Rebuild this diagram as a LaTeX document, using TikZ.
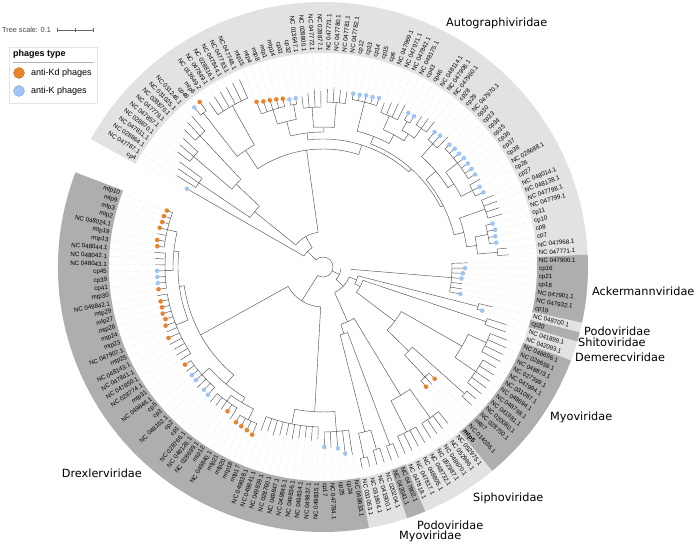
\documentclass[tikz,border=0pt]{standalone}
\usepackage{fontspec}
\setmainfont{Liberation Sans}
\newfontfamily\famfont{DejaVu Sans}
\definecolor{kd}{HTML}{E8832A}
\definecolor{kk}{HTML}{9EC5F6}
\definecolor{lightband}{HTML}{E2E2E2}
\definecolor{darkband}{HTML}{AEAEAE}
\tikzset{
  branch/.style={draw=black!68, line width=0.45pt},
  leader/.style={draw=black!22, dotted, line width=0.4pt},
  leaflab/.style={inner sep=0pt, font=\fontsize{6.2}{7}\selectfont},
  famlab/.style={inner sep=0pt, font=\famfont\fontsize{11.3}{13}\selectfont},
  leglab/.style={inner sep=0pt, anchor=west, font=\fontsize{9}{10}\selectfont}
}
\newcommand{\band}[3]{%
  \pgfmathsetmacro{\ba}{150.1-2.121*(#1-1.5)}
  \pgfmathsetmacro{\bb}{150.1-2.121*(#2-0.5)}
  \fill[#3] (\ba:214) arc[start angle=\ba, end angle=\bb, radius=214pt]
    -- (\bb:265) arc[start angle=\bb, end angle=\ba, radius=265pt] -- cycle;
}
\begin{document}
\begin{tikzpicture}[x=1pt, y=1pt]
    \useasboundingbox (-323,-276) rectangle (373,267);
    % family ranges behind the labels
    \band{1}{70}{lightband}
    \band{71}{77}{darkband}
    \band{78}{78}{lightband}
    \band{79}{79}{darkband}
    \band{80}{81}{lightband}
    \band{82}{95}{darkband}
    \band{96}{103}{lightband}
    \band{104}{105}{darkband}
    \band{106}{109}{lightband}
    \band{110}{166}{darkband}
    % inner nodes: radius / first child / last child / parent radius
    \foreach \r/\p/\q/\rp in {
        150/2/4/88, 170/5/7/120, 180/8/10/120, 120/6/9/88, 88/3/7.5/35,
        195/11/12/140, 185/13/18/140, 140/11.5/15.5/118,
        165/19/23/150, 165/24/25/150, 150/21/24.5/135,
        160/26/29/140, 165/30/33/140, 140/27.5/31.5/135, 135/22.75/29.5/128,
        170/34/38/140, 165/39/42/150, 168/43/44/158, 170/45/47/158,
        158/43.5/46/150, 150/40.5/44.75/140, 140/36/42.625/132,
        165/48/50/148, 170/51/57/155, 168/58/60/155, 155/54/59/148,
        148/49/56.5/135, 172/61/64/145, 168/65/68/155, 175/69/70/155,
        155/66.5/69.5/145, 145/62.5/68/135, 135/52.75/65.25/132,
        132/39.3125/59/128, 128/26.125/49.15625/118, 118/13.5/37.640625/35,
        35/5.25/25.5703125/22, 22/1/15.41015625/10,
        129/71/77/28, 160/78/79/36, 172/80/81/42, 180/82/85/160,
        185/86/90/160, 160/83.5/88/90, 190/91/92/120, 150/93/95/120,
        120/91.5/94/90, 90/85.75/92.75/42, 42/80.5/89.25/36,
        36/78.5/84.875/28, 185/96/99/150, 185/100/103/150, 150/97.5/101.5/60,
        190/104/105/70, 190/106/107/170, 195/108/109/170, 170/106.5/108.5/70,
        70/104.5/107.5/60, 60/99.5/106/28, 28/81.6875/102.75/18,
        18/74/92.21875/10,
        165/110/114/145, 160/115/124/145, 145/112/119.5/40, 170/125/128/158,
        165/129/133/158, 158/126.5/131/152, 162/134/140/152, 152/128.75/137/140,
        158/141/152/145, 158/153/159/150, 160/160/166/150, 150/156/163/145,
        145/146.5/159.5/140, 140/132.875/153/40, 40/115.75/142.9375/10,
        10/8.205078125/129.34375/10} {
        \pgfmathsetmacro{\ca}{150.1-2.121*(\p-1)}
        \pgfmathsetmacro{\cb}{150.1-2.121*(\q-1)}
        \pgfmathsetmacro{\cm}{(\ca+\cb)/2}
        \draw[branch] (\ca:\r) arc[start angle=\ca, end angle=\cb, radius=\r pt];
        \draw[branch] (\cm:\rp) -- (\cm:\r);
    }
    % leaves: index / parent radius / tip radius / dot / label
    \foreach \i/\rp/\rt/\typ/\lab in {
        1/22/157/kk/cp4, 2/150/172/none/NC 047787.1, 3/150/175/none/NC 028864.1,
        4/150/178/none/NC 047811.1, 5/170/185/none/NC 028870.1, 6/170/188/none/NC 047857.1,
        7/170/190/none/NC 047779.1, 8/180/195/none/NC 028870.1, 9/180/198/none/NC 031025.1,
        10/180/200/none/NC 031246.1, 11/195/205/kk/cp48, 12/195/206/kd/mtp6,
        13/185/200/none/NC 013649.2, 14/185/202/none/NC 047849.1, 15/185/203/none/NC 028816.1,
        16/185/204/none/NC 047844.1, 17/185/205/none/NC 047783.1, 18/185/205/none/NC 047748.1,
        19/165/178/kd/mtp15, 20/165/176/kd/mtp4, 21/165/175/kd/mtp8, 22/165/174/kd/mtp1,
        23/165/173/kd/mtp14, 24/165/171/kk/cp31, 25/165/171/kk/cp32,
        26/160/172/none/NC 013647.1, 27/160/175/none/NC 028800.1, 28/160/178/none/NC 047772.1,
        29/160/176/none/NC 028877.1, 30/165/178/none/NC 047773.1, 31/165/180/none/NC 047780.1,
        32/165/178/none/NC 047781.1, 33/165/177/none/NC 047782.1,
        34/170/176/kk/cp12, 35/170/176/kk/cp13, 36/170/177/kk/cp14, 37/170/177/kk/cp15,
        38/170/178/kk/cp6, 39/165/175/none/NC 047969.1, 40/165/178/none/NC 047971.1,
        41/165/180/none/NC 047842.1, 42/165/182/none/NC 048175.1, 43/168/176/kk/cp43,
        44/168/176/kk/cp46, 45/170/180/none/NC 048114.1, 46/170/182/none/NC 047908.1,
        47/170/183/none/NC 047960.1, 48/165/175/kk/cp28, 49/165/176/kk/cp29,
        50/165/180/none/NC 047970.1, 51/170/176/kk/cp30, 52/170/177/kk/cp33,
        53/170/177/kk/cp34, 54/170/178/kk/cp35, 55/170/178/kk/cp36, 56/170/178/kk/cp37,
        57/170/178/kk/cp38, 58/168/180/none/NC 028688.1, 59/168/176/kk/cp26,
        60/168/177/kk/cp27, 61/172/185/none/NC 048014.1, 62/172/186/none/NC 048138.1,
        63/172/186/none/NC 047798.1, 64/172/187/none/NC 047799.1, 65/168/175/kk/cp11,
        66/168/176/kk/cp10, 67/168/175/kk/cp8, 68/168/175/kk/cp7,
        69/175/185/none/NC 047968.1, 70/175/186/none/NC 047771.1,
        71/129/145/none/NC 047900.1, 72/129/142/kk/cp16, 73/129/140/kk/cp21,
        74/129/139/kk/cp18, 75/129/140/none/NC 047901.1, 76/129/141/none/NC 047932.1,
        77/129/140/kk/cp19, 78/160/174/none/NC 048700.1, 79/160/165/kk/cp20,
        80/172/192/none/NC 041899.1, 81/172/194/none/NC 042093.1,
        82/180/198/none/NC 048696.1, 83/180/200/none/NC 028659.1, 84/180/200/none/NC 048873.1,
        85/180/201/none/NC 027399.1, 86/185/200/none/NC 047994.1, 87/185/202/none/NC 031087.1,
        88/185/202/none/NC 048694.1, 89/185/203/none/NC 048798.1, 90/185/203/none/NC 041981.1,
        91/190/202/none/NC 020080.1, 92/190/203/none/NC 028750.1, 93/150/158/kd/mtp7,
        94/150/160/none/NC 014036.1, 95/150/158/kd/\textbf{mtp5},
        96/185/200/none/NC 052975.1, 97/185/201/none/NC 052986.1, 98/185/202/none/NC 048670.1,
        99/185/202/none/NC 052987.1, 100/185/203/none/NC 048732.1, 101/185/203/none/NC 048805.1,
        102/185/204/none/NC 047817.1, 103/185/204/none/NC 047818.1,
        104/190/205/none/NC 047802.1, 105/190/205/none/NC 042041.1,
        106/190/205/none/NC 020204.1, 107/190/205/none/NC 041900.1,
        108/195/205/none/NC 031804.1, 109/195/205/none/NC 031053.1,
        110/165/190/none/NC 049833.1, 111/165/188/kk/cp24, 112/165/182/kk/cp25,
        113/165/181/none/NC 047784.1, 114/165/180/kk/cp17,
        115/160/172/none/NC 049835.1, 116/160/174/none/NC 049837.1, 117/160/171/none/NC 049834.1,
        118/160/173/none/NC 049836.1, 119/160/175/none/NC 049845.1, 120/160/172/none/NC 049847.1,
        121/160/174/none/NC 028760.1, 122/160/176/none/NC 049839.1, 123/160/173/none/NC 049841.1,
        124/160/175/none/NC 049838.1, 125/170/182/kd/mtp17, 126/170/180/kd/mtp18,
        127/170/179/kd/mtp20, 128/170/178/kd/mtp21, 129/165/178/none/NC 049840.1,
        130/165/173/kd/mtp12, 131/165/175/none/NC 028699.1, 132/165/175/none/NC 048126.1,
        133/165/176/none/NC 028766.1, 134/162/172/kk/cp1, 135/162/171/kk/cp2,
        136/162/174/none/NC 048162.1, 137/162/170/kk/cp3, 138/162/170/kk/cp5,
        139/162/172/none/NC 049846.1, 140/162/169/kd/mtp31,
        141/158/170/none/NC 028774.1, 142/158/171/none/NC 047850.1, 143/158/170/none/NC 047841.1,
        144/158/172/none/NC 048143.1, 145/158/170/kd/mtp25, 146/158/169/none/NC 047907.1,
        147/158/168/kd/mtp23, 148/158/166/kd/mtp24, 149/158/167/kd/mtp28,
        150/158/166/kd/mtp27, 151/158/166/kd/mtp29, 152/158/168/none/NC 049842.1,
        153/158/166/kd/mtp30, 154/158/166/kk/cp41, 155/158/166/kk/cp39, 156/158/166/kk/cp45,
        157/158/168/none/NC 048043.1, 158/158/168/none/NC 048042.1, 159/158/169/none/NC 048044.1,
        160/160/167/kd/mtp13, 161/160/168/kd/mtp19, 162/160/169/none/NC 048024.1,
        163/160/168/kd/mtp2, 164/160/167/kd/mtp3, 165/160/167/kd/mtp9, 166/160/166/kd/mtp10} {
        \pgfmathsetmacro{\ang}{150.1-2.121*(\i-1)}
        \draw[branch] (\ang:\rp) -- (\ang:\rt);
        \draw[leader] (\ang:\rt) -- (\ang:213);
        \path[fill=\typ] (\ang:\rt) circle[radius=2.3pt];
        \ifdim\ang pt>90pt
            \node[leaflab, anchor=east, rotate=\ang+180] (l\i) at (\ang:216) {\lab};
        \else\ifdim\ang pt<-90pt
            \node[leaflab, anchor=east, rotate=\ang+180] (l\i) at (\ang:216) {\lab};
        \else
            \node[leaflab, anchor=west, rotate=\ang] (l\i) at (\ang:216) {\lab};
        \fi\fi
    }
    % family names
    \node[famlab, anchor=west] (autog) at (123,244) {Autographiviridae};
    \node[famlab, anchor=west] (acker) at (269,-24) {Ackermannviridae};
    \node[famlab, anchor=west] (podo1) at (261,-64) {Podoviridae};
    \node[famlab, anchor=west] (shito) at (255,-75) {Shitoviridae};
    \node[famlab, anchor=west] (demer) at (252,-90) {Demerecviridae};
    \node[famlab, anchor=west] (myo1) at (227,-150) {Myoviridae};
    \node[famlab, anchor=west] (sipho) at (150,-231) {Siphoviridae};
    \node[famlab, anchor=west] (podo2) at (94,-258) {Podoviridae};
    \node[famlab, anchor=west] (myo2) at (76,-269) {Myoviridae};
    \node[famlab, anchor=east] (drexl) at (-181,-206) {Drexlerviridae};
    % tree scale
    \node[inner sep=0pt, anchor=west, text=black!75, font=\fontsize{7.3}{8}\selectfont] (scale) at (-321,237) {Tree scale: 0.1};
    \draw[black!60, line width=0.5pt] (-266,237) -- (-230,237);
    \foreach \x in {-266, -248, -230} {
        \draw[black!60, line width=0.5pt] (\x,235) -- (\x,239);
    }
    % legend
    \node[draw=black!10, line width=0.5pt, anchor=north west, minimum width=88pt, minimum height=56pt] (legbox) at (-314,220) {};
    \node[leglab, font=\bfseries\fontsize{9}{10}\selectfont] (legtitle) at (-310,213) {phages type};
    \draw[black!30, line width=0.6pt] (-310,205) -- (-229,205);
    \fill[kd, draw=kd!80!black, line width=0.3pt] (-304,194) circle[radius=5.5pt];
    \node[leglab] (legkd) at (-292,194) {anti-Kd phages};
    \fill[kk, draw=kk!80!black, line width=0.3pt] (-304,176) circle[radius=5.5pt];
    \node[leglab] (legk) at (-292,176) {anti-K phages};
\end{tikzpicture}
\end{document}
